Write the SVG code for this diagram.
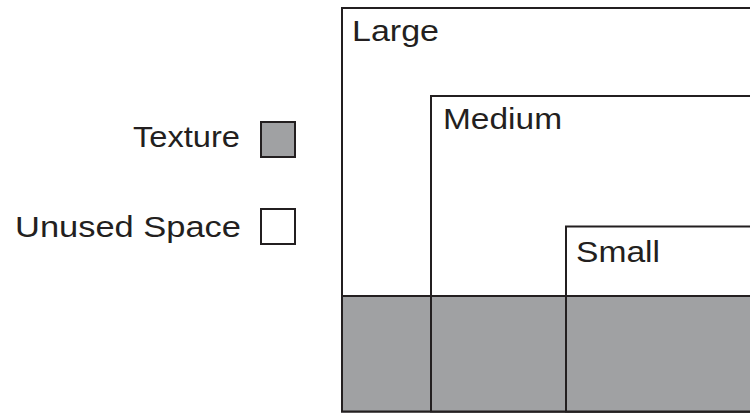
<svg xmlns="http://www.w3.org/2000/svg" width="750" height="413" viewBox="0 0 750 413">
  <style>
    .frame { fill: #ffffff; stroke: #231f20; stroke-width: 2; }
    .tex { fill: #a0a1a3; stroke: #231f20; stroke-width: 2; }
    .lbl { font-family: "Liberation Sans", Arial, sans-serif; font-size: 30px; fill: #231f20; }
  </style>
  <rect width="750" height="413" fill="#ffffff"/>

  <!-- legend -->
  <g id="legend-texture">
    <text class="lbl" x="240" y="147" text-anchor="end" textLength="107" lengthAdjust="spacingAndGlyphs">Texture</text>
    <rect class="tex" x="261" y="122" width="34" height="35"/>
  </g>
  <g id="legend-unused">
    <text class="lbl" x="241" y="237" text-anchor="end" textLength="226" lengthAdjust="spacingAndGlyphs">Unused Space</text>
    <rect class="frame" x="261" y="209" width="34" height="35"/>
  </g>

  <!-- nested allocation blocks -->
  <g id="large">
    <rect class="frame" x="342" y="8" width="420" height="403.5"/>
    <text class="lbl" x="352" y="41" textLength="87" lengthAdjust="spacingAndGlyphs">Large</text>
  </g>
  <g id="medium">
    <rect class="frame" x="431" y="96" width="330" height="315.5"/>
    <text class="lbl" x="443" y="129" textLength="119" lengthAdjust="spacingAndGlyphs">Medium</text>
  </g>
  <g id="small">
    <rect class="frame" x="566" y="226.5" width="195" height="185"/>
    <text class="lbl" x="576" y="262" textLength="84" lengthAdjust="spacingAndGlyphs">Small</text>
  </g>

  <!-- texture band across the bottom -->
  <g id="texture-band">
    <rect class="tex" x="342" y="296" width="420" height="115.5"/>
    <line x1="431" y1="296" x2="431" y2="411.5" stroke="#231f20" stroke-width="2"/>
    <line x1="566" y1="296" x2="566" y2="411.5" stroke="#231f20" stroke-width="2"/>
  </g>
</svg>
